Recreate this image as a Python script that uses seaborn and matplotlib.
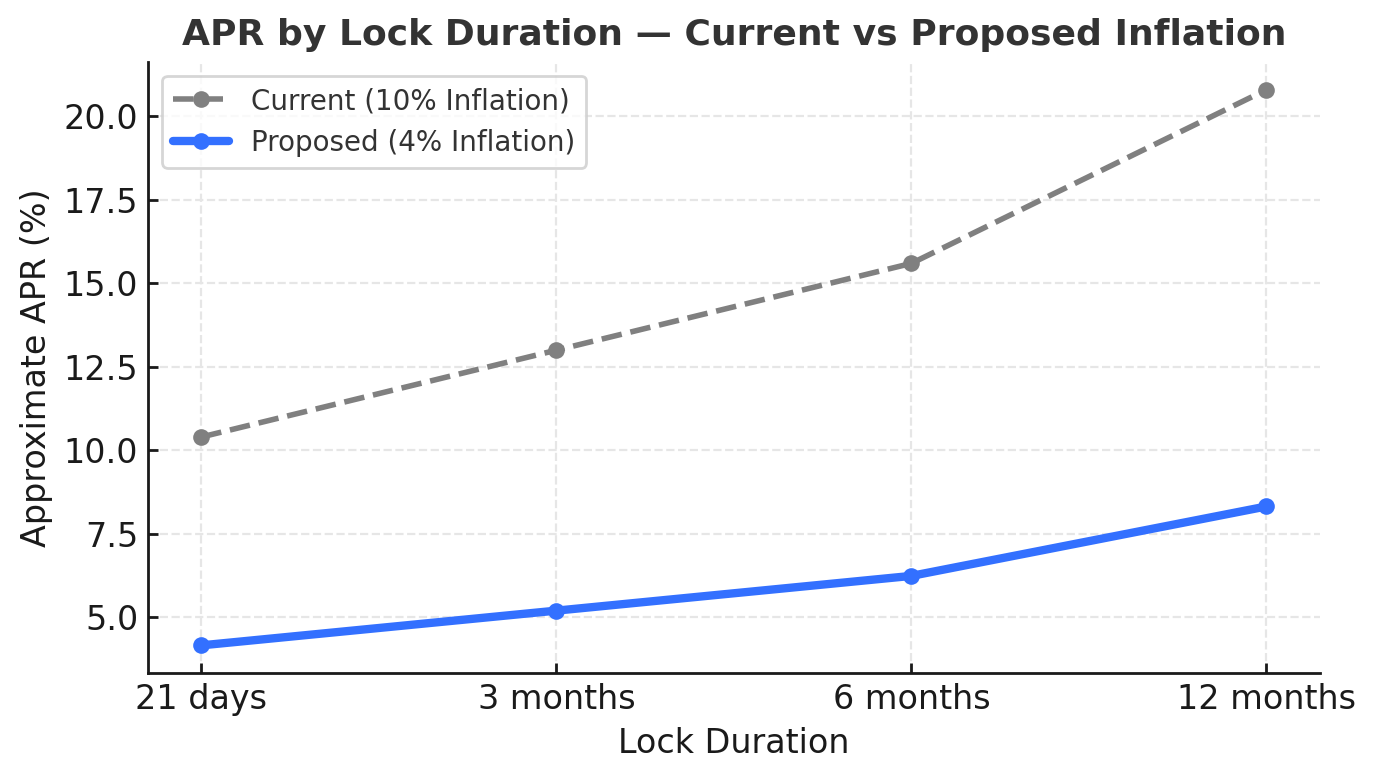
import matplotlib
matplotlib.use("Agg")
import matplotlib.pyplot as plt
import seaborn as sns
import pandas as pd

# data
durations = ["21 days", "3 months", "6 months", "12 months"]
current_apr = [10.4, 13.0, 15.6, 20.8]
proposed_apr = [4.16, 5.2, 6.24, 8.32]

sns.set_theme(style="white")
plt.rcParams['font.family'] = ['DejaVu Sans']

df_cur = pd.DataFrame({"duration": durations, "apr": current_apr})
df_prop = pd.DataFrame({"duration": durations, "apr": proposed_apr})

fig = plt.figure(figsize=(6.88, 3.9), dpi=200)
ax = fig.add_axes([0.1076, 0.137, 0.8514, 0.7835])

sns.lineplot(data=df_cur, x="duration", y="apr", ax=ax, sort=False,
             color="gray", linestyle="--", linewidth=2, marker="o",
             markersize=6, markeredgewidth=0, label="Current (10% Inflation)")
sns.lineplot(data=df_prop, x="duration", y="apr", ax=ax, sort=False,
             color="#3370ff", linewidth=3, marker="o",
             markersize=6, markeredgewidth=0, label="Proposed (4% Inflation)")

ax.set_title("APR by Lock Duration \u2014 Current vs Proposed Inflation",
             fontsize=13, fontweight="bold", color="#333333", pad=6)
ax.set_xlabel("Lock Duration", fontsize=12, color="#1a1a1a", labelpad=4)
ax.set_ylabel("Approximate APR (%)", fontsize=12, color="#1a1a1a", labelpad=4)
ax.tick_params(axis="both", labelsize=12, colors="#1a1a1a", length=3.5,
               width=1, bottom=True, left=True, direction="in", pad=3.5)
ax.grid(True, linestyle="--", color="#e6e6e6", linewidth=0.8)
ax.set_axisbelow(True)
for s in ["top", "right"]:
    ax.spines[s].set_visible(False)
for s in ["left", "bottom"]:
    ax.spines[s].set_color("#1a1a1a")
    ax.spines[s].set_linewidth(1)

leg = ax.legend(loc="upper left", fontsize=10, frameon=True)
leg.get_frame().set_edgecolor("#cccccc")
for t in leg.get_texts():
    t.set_color("#333333")

fig.savefig("out.png", dpi=200)
